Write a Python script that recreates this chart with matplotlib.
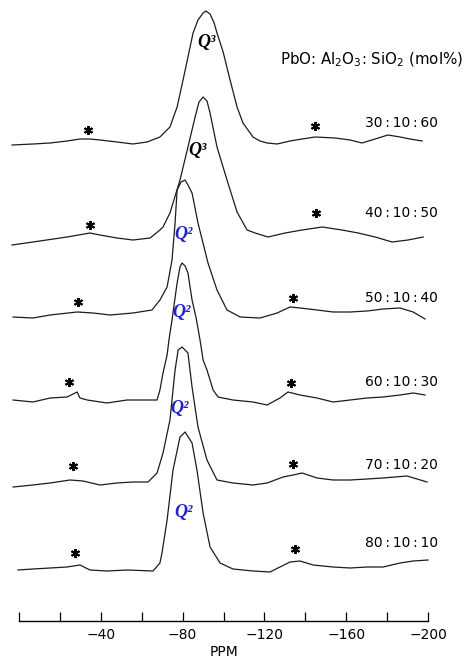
import numpy as np
import matplotlib
matplotlib.use('Agg')
import matplotlib.pyplot as plt

fontsize_tick = 10
fontsize_label = 10
fontsize_header = 10.8
fontsize_q = 13
linewidth_trace = 0.9
trace_colour = '#1c1c1c'
q2_colour = '#2020cc'

# sample compositions PbO:Al2O3:SiO2 (mol%), top to bottom
compositions = ['30\u2009:\u200910\u2009:\u200960', '40\u2009:\u200910\u2009:\u200950',
                '50\u2009:\u200910\u2009:\u200940', '60\u2009:\u200910\u2009:\u200930',
                '70\u2009:\u200910\u2009:\u200920', '80\u2009:\u200910\u2009:\u200910']
species = ['Q³', 'Q³', 'Q²', 'Q²', 'Q²', 'Q²']

# spectra: chemical shift (ppm) and signal height (arb.)
ppm_30 = [3.4, -6.8, -15.2, -23.5, -29.8, -34.7, -39.6, -47.9, -55.7, -62.6, -68.9, -73.8,
          -77.3, -80.2, -82.6, -85.1, -87.5, -90.0, -91.4, -93.4, -95.4, -96.8, -99.8, -103.2,
          -106.6, -109.5, -114.4, -117.8, -121.3, -126.2, -132.5, -138.4, -144.7, -154.5,
          -161.9, -167.7, -174.1, -180.4, -186.3, -191.2, -197.1]
amp_30 = [-1, 0, 1, 3, 5, 5, 4, 2, 0, 2, 7, 17,
          37, 64, 87, 111, 124, 131, 133, 130, 121, 111, 92, 64,
          37, 21, 7, 3, 1, 0, 3, 5, 7, 6,
          4, 1, 5, 9, 7, 5, 3]

ppm_40 = [3.4, -6.8, -23.5, -34.7, -39.6, -47.9, -55.7, -64.1, -68.9, -70.4, -73.8, -78.7,
          -82.6, -86.1, -88.0, -90.0, -91.9, -93.4, -96.8, -101.7, -106.6, -111.5, -115.4,
          -121.8, -130.1, -138.4, -148.2, -157.9, -165.8, -174.1, -182.4, -190.2, -197.6]
amp_40 = [-5, -2, 3, 7, 5, 2, 0, 2, 10, 13, 27, 60,
          93, 123, 138, 143, 139, 127, 93, 60, 28, 10, 7,
          3, 7, 10, 13, 10, 7, 3, -2, 0, 3]

ppm_50 = [2.9, -6.8, -15.2, -28.4, -36.2, -44.5, -55.7, -65.0, -68.9, -72.4, -74.8, -76.3,
          -77.3, -79.2, -81.2, -82.6, -84.6, -87.5, -92.4, -96.8, -101.7, -108.1, -117.8,
          -126.2, -132.5, -137.4, -145.7, -153.5, -161.9, -170.2, -178.0, -186.3, -192.7, -198.5]
amp_50 = [-1, -2, 1, 4, 3, 1, 3, 6, 16, 29, 56, 93,
          126, 134, 136, 131, 123, 93, 53, 26, 6, -1, -2,
          3, 9, 8, 6, 4, 4, 5, 7, 8, 4, -3]

ppm_60 = [2.9, -6.8, -15.2, -23.5, -28.4, -29.8, -33.3, -43.0, -52.8, -62.6, -67.5, -68.9,
          -70.4, -72.4, -73.3, -74.8, -77.3, -78.7, -79.7, -81.2, -82.6, -84.6, -86.6, -88.5,
          -90.0, -91.9, -94.9, -97.3, -104.6, -114.4, -121.3, -127.6, -131.5, -137.4, -145.7,
          -153.5, -161.9, -170.2, -178.0, -186.3, -192.7, -198.5]
amp_60 = [0, -2, 2, 3, 8, 2, 0, -3, 0, 0, 0, 10,
          27, 45, 60, 80, 117, 133, 137, 134, 127, 100, 82, 60,
          40, 30, 10, 3, 0, -2, -5, 2, 8, 5, 2,
          -2, 0, 2, 3, 5, 7, 5]

ppm_70 = [2.9, -6.8, -15.2, -24.9, -31.3, -39.6, -47.9, -55.7, -63.1, -67.5, -70.4, -73.8,
          -76.3, -77.8, -79.7, -82.6, -84.6, -87.5, -91.9, -96.8, -104.6, -114.4, -121.3,
          -129.1, -134.0, -138.4, -145.7, -153.5, -161.9, -170.2, -178.0, -189.7, -194.6, -199.5]
amp_70 = [-5, -3, -1, 2, 1, -3, -1, 0, 0, 9, 29, 62,
          112, 132, 135, 129, 95, 55, 22, 2, -1, -3, -1,
          5, 7, 9, 4, 2, 2, 3, 4, 6, 3, 0]

ppm_80 = [0.5, -6.8, -15.2, -23.5, -29.8, -34.7, -43.0, -52.8, -65.5, -68.9, -69.9, -72.4,
          -75.3, -78.7, -81.2, -84.6, -87.0, -90.0, -93.4, -98.3, -104.6, -114.4, -122.7,
          -127.6, -132.5, -137.4, -143.8, -153.5, -161.9, -170.2, -178.0, -186.3, -192.7, -200.0]
amp_80 = [-2, -1, 0, 1, 3, -2, -3, -2, -3, 5, 15, 48,
          98, 131, 136, 125, 98, 55, 21, 5, -1, -3, -4,
          1, 6, 7, 3, 1, 0, 1, 1, 5, 7, 8]

# spinning sidebands (*): position (ppm) and height above trace baseline
sb_left_ppm = [-33.7, -34.7, -28.9, -24.4, -26.4, -27.4]
sb_left_amp = [14, 15, 14, 18, 16, 15]
sb_right_ppm = [-144.7, -145.2, -134.0, -133.0, -134.0, -135.0]
sb_right_amp = [18, 27, 18, 17, 18, 19]

# Q-species label positions
q_ppm = [-91.7, -87.5, -80.2, -79.7, -78.7, -80.2]
q_amp = [101, 90, 81, 87, 74, 56]

label_amp = [21, 27, 18, 18, 17, 25]

xtick_vals = [0, -20, -40, -60, -80, -100, -120, -140, -160, -180, -200]
xtick_labels = ['', '', '\u221240', '', '\u221280', '', '\u2212120', '', '\u2212160', '', '\u2212200']


def plot_stack(traces, baselines, savepath):
    fig = plt.figure(figsize=(4.7, 6.61), dpi=100)
    ax = fig.add_axes([0, 0, 1, 1])

    for j, (ppm, amp) in enumerate(traces):
        y0 = baselines[j]
        ax.plot(ppm, np.array(amp) + y0, c=trace_colour, linewidth=linewidth_trace)
        ax.plot([sb_left_ppm[j], sb_right_ppm[j]],
                [sb_left_amp[j] + y0, sb_right_amp[j] + y0],
                linestyle='none', marker=(6, 2, 0), markersize=6.5,
                markeredgewidth=1.4, c='black')
        ax.text(-204.9, y0 + label_amp[j], compositions[j], fontsize=fontsize_label,
                ha='right', va='center')
        ax.text(q_ppm[j], y0 + q_amp[j], species[j], fontsize=fontsize_q,
                family='Liberation Serif', weight='bold', style='italic',
                ha='center', va='center',
                color='black' if species[j] == 'Q³' else q2_colour)

    ax.text(-127.6, 601, r'PbO: Al$_2$O$_3$: SiO$_2$ (mol%)', fontsize=fontsize_header,
            ha='left', va='center')
    ax.text(-100.2, 9, 'PPM', fontsize=fontsize_label, ha='center', va='center')

    ax.set(xlim=(9.3, -220.5), ylim=(0, 661), yticks=[])
    ax.set_xticks(xtick_vals)
    ax.set_xticklabels(xtick_labels, fontsize=fontsize_tick)
    for s in ['left', 'right', 'top']:
        ax.spines[s].set_visible(False)
    ax.spines['bottom'].set_position(('data', 40))
    ax.spines['bottom'].set_bounds(0, -200)
    ax.spines['bottom'].set_linewidth(1.0)
    ax.tick_params(axis='x', direction='in', length=6.5, width=0.9, pad=5)
    ax.patch.set_alpha(0)

    fig.savefig(savepath, dpi=100)
    plt.close(fig)


plt.rcParams['mathtext.default'] = 'regular'

if __name__ == '__main__':
    traces = [(ppm_30, amp_30), (ppm_40, amp_40), (ppm_50, amp_50),
              (ppm_60, amp_60), (ppm_70, amp_70), (ppm_80, amp_80)]
    baselines = [517, 421, 345, 261, 179, 93]
    plot_stack(traces, baselines, 'out.png')
